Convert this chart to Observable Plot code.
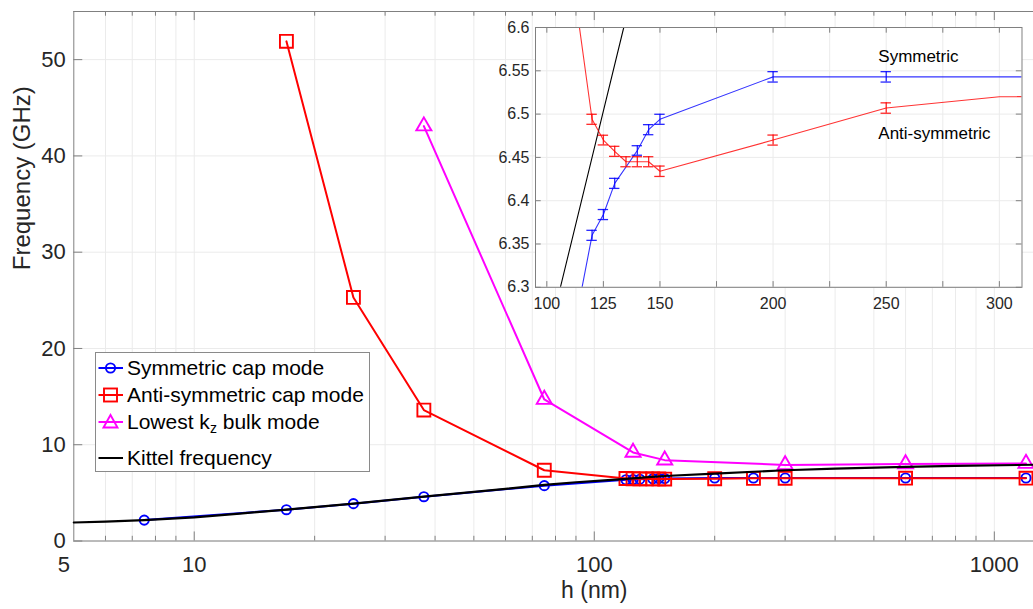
<!DOCTYPE html>
<html><head><meta charset="utf-8">
<script src="https://cdn.jsdelivr.net/npm/d3@7"></script>
<script src="https://cdn.jsdelivr.net/npm/@observablehq/plot@0.6"></script>
<style>
html,body{margin:0;padding:0;background:#fff;overflow:hidden;}
#wrap{position:relative;width:1033px;height:609px;font-family:"Liberation Sans",Arial,sans-serif;color:#262626;}
#wrap svg{display:block;}
#main{position:absolute;left:0;top:0;}
#inset{position:absolute;}
#legend{position:absolute;left:95px;top:352px;width:275px;height:120px;border:1px solid #8a8a8a;background:#fff;box-sizing:border-box;}
#legend .row{position:absolute;left:2px;height:24px;display:flex;align-items:center;white-space:nowrap;font-size:21px;color:#000;}
#legend .row svg{margin-right:3px;}
#legend sub{font-size:14px;position:relative;top:4px;vertical-align:baseline;}
</style></head><body><div id="wrap"><div id="main"></div><div id="inset"></div><div id="legend"></div></div>
<script>
// ---------- data ----------
const symH    = [7.5, 17, 25, 37.5, 75, 120, 125, 130, 140, 145, 150, 200, 250, 300, 600, 1200];
const symFreq = [2.17, 3.25, 3.88, 4.6, 5.75, 6.360, 6.384, 6.420, 6.458, 6.482, 6.494, 6.543, 6.543, 6.543, 6.543, 6.543];
const symErr  = [0, 0, 0, 0, 0, 0.0058, 0.0058, 0.0058, 0.0055, 0.0058, 0.0058, 0.006, 0.006, 0, 0, 0];

const antiH    = [17, 25, 37.5, 75, 120, 125, 130, 135, 140, 145, 150, 200, 250, 300, 600, 1200];
const antiFreq = [51.9, 25.3, 13.6, 7.35, 6.494, 6.470, 6.457, 6.445, 6.445, 6.445, 6.434, 6.470, 6.507, 6.520, 6.525, 6.527];
const antiErr  = [0, 0, 0, 0, 0.0058, 0.0056, 0.0058, 0.0058, 0.0058, 0.0058, 0.006, 0.0058, 0.006, 0, 0, 0];

const bulkH    = [37.5, 75, 125, 150, 300, 600, 1200];
const bulkFreq = [43.1, 14.7, 9.2, 8.4, 7.9, 8.0, 8.05];

const kittelH    = [5, 6, 7.5, 10, 13, 17, 25, 37.5, 50, 60, 75, 90, 106, 120, 134, 150, 200, 300, 400, 600, 800, 1253];
const kittelFreq = [1.92, 2.02, 2.17, 2.45, 2.85, 3.25, 3.88, 4.6, 5.1, 5.42, 5.83, 6.1, 6.3, 6.45, 6.6, 6.75, 7.0, 7.35, 7.52, 7.7, 7.8, 7.92];

const yTicks = [0, 10, 20, 30, 40, 50];
const xLabelTicks = [10, 100, 1000];
const xEdgeLabel = [5];
const xMajor = [10, 100, 1000];
const xMinor = [6, 7, 8, 9, 20, 30, 40, 50, 60, 70, 80, 90, 200, 300, 400, 500, 600, 700, 800, 900];

const insetXTicks = [100, 125, 150, 175, 200, 225, 250, 275, 300];
const insetXLabels = [100, 125, 150, 200, 250, 300];
const insetYTicks = [6.3, 6.35, 6.4, 6.45, 6.5, 6.55, 6.6];

const legendLabels = ["Symmetric cap mode", "Anti-symmetric cap mode", "Lowest k<sub>z</sub> bulk mode", "Kittel frequency"];

// ---------- tables ----------
const sym = symH.map((h, i) => ({h, f: symFreq[i], e: symErr[i]}));
const anti = antiH.map((h, i) => ({h, f: antiFreq[i], e: antiErr[i]}));
const bulk = bulkH.map((h, i) => ({h, f: bulkFreq[i]}));
const kittel = kittelH.map((h, i) => ({h, f: kittelFreq[i]}));

const BLUE = "#0000ff", RED = "#ff0000", MAG = "#ff00ff", BLACK = "#000000";
const AX = "#808080", GRID = "#ebebeb";
const FONT = "'Liberation Sans', Arial, Helvetica, sans-serif";

// ---------- main plot ----------
const X0 = 5, X1 = 1253, Y0 = 0, Y1 = 55;
const main = Plot.plot({
  width: 1033, height: 609,
  marginLeft: 73.3, marginRight: 0, marginTop: 11, marginBottom: 68.5,
  x: {type: "log", domain: [X0, X1], label: null},
  y: {domain: [Y0, Y1], label: null},
  style: {fontFamily: FONT, color: "#262626", background: "transparent", overflow: "visible"},
  marks: [
    Plot.ruleX([...xMajor, ...xMinor], {stroke: GRID, strokeWidth: 1}),
    Plot.ruleY(yTicks, {stroke: GRID, strokeWidth: 1}),
    // axes box
    Plot.ruleX([X0], {stroke: AX}),
    Plot.ruleY([Y0], {stroke: AX}),
    Plot.ruleY([Y1], {stroke: AX}),
    // inward ticks
    Plot.ruleX(xMajor, {y1: Y0, y2: Y0 + 0.94, stroke: AX}),
    Plot.ruleX(xMinor, {y1: Y0, y2: Y0 + 0.49, stroke: AX}),
    Plot.ruleX(xMajor, {y1: Y1 - 0.94, y2: Y1, stroke: AX}),
    Plot.ruleX(xMinor, {y1: Y1 - 0.49, y2: Y1, stroke: AX}),
    Plot.ruleY(yTicks, {x1: X0, x2: X0 * 1.053, stroke: AX}),
    // series
    Plot.line(sym, {x: "h", y: "f", stroke: BLUE, strokeWidth: 2}),
    Plot.dot(sym, {x: "h", y: "f", symbol: "circle", r: 4.6, stroke: BLUE, strokeWidth: 1.9, fill: "none"}),
    Plot.line(anti, {x: "h", y: "f", stroke: RED, strokeWidth: 2}),
    Plot.dot(anti, {x: "h", y: "f", symbol: "square", r: 7.3, stroke: RED, strokeWidth: 1.9, fill: "none"}),
    Plot.line(bulk, {x: "h", y: "f", stroke: MAG, strokeWidth: 2}),
    Plot.dot(bulk, {x: "h", y: "f", symbol: "triangle", r: 5.6, stroke: MAG, strokeWidth: 1.9, fill: "none"}),
    Plot.line(kittel, {x: "h", y: "f", stroke: BLACK, strokeWidth: 2.2}),
    // tick labels
    Plot.axisX({ticks: xLabelTicks, tickSize: 0, tickPadding: 15, tickFormat: d => String(d), fontSize: 22, label: null, fill: "#262626"}),
    Plot.text(xEdgeLabel, {x: d => d, text: d => String(d), frameAnchor: "bottom", lineAnchor: "top", dy: 15, dx: -10, fontSize: 22, fill: "#262626"}),
    Plot.axisY({ticks: yTicks, tickSize: 0, tickPadding: 8, tickFormat: d => String(d), fontSize: 22, label: null, fill: "#262626"}),
    // axis titles
    Plot.text([{h: 100, t: "h (nm)"}], {x: "h", text: "t", frameAnchor: "bottom", dy: 56.5, fontSize: 23, fill: "#262626"}),
    Plot.text(["Frequency (GHz)"], {text: d => d, frameAnchor: "left", dx: -51, dy: -6, rotate: -90, fontSize: 24, fill: "#262626"})
  ]
});
document.getElementById("main").appendChild(main);

// ---------- inset ----------
const IL = 50, IT = 4, IR = 6, IB = 30;
const frameL = 535, frameT = 26.7, frameW = 486.5, frameH = 259.8;
const IX0 = 95, IX1 = 310, IY0 = 6.3, IY1 = 6.6;
const capHalf = 2.3;
const tickY = 5.7 * (IY1 - IY0) / frameH;
const tickX = 5.7 * (IX1 - IX0) / frameW;
const symE = sym.filter(d => d.e > 0);
const antiE = anti.filter(d => d.e > 0);
const inset = Plot.plot({
  width: IL + frameW + IR, height: IT + frameH + IB,
  marginLeft: IL, marginRight: IR, marginTop: IT, marginBottom: IB,
  x: {domain: [IX0, IX1], label: null},
  y: {domain: [IY0, IY1], label: null},
  style: {fontFamily: FONT, color: "#262626", background: "transparent", overflow: "visible"},
  marks: [
    Plot.frame({fill: "white", stroke: "none"}),
    Plot.ruleX(insetXTicks, {stroke: GRID}),
    Plot.ruleY(insetYTicks, {stroke: GRID}),
    Plot.line(kittel, {x: "h", y: "f", stroke: BLACK, strokeWidth: 1.1, clip: true}),
    Plot.line(sym, {x: "h", y: "f", stroke: BLUE, strokeWidth: 1.1, strokeOpacity: 0.8, clip: true}),
    Plot.line(anti, {x: "h", y: "f", stroke: RED, strokeWidth: 1.1, strokeOpacity: 0.8, clip: true}),
    Plot.ruleX(symE, {x: "h", y1: d => d.f - d.e, y2: d => d.f + d.e, stroke: BLUE, strokeWidth: 1.3, strokeOpacity: 0.85}),
    Plot.ruleY(symE, {y: d => d.f - d.e, x1: d => d.h - capHalf, x2: d => d.h + capHalf, stroke: BLUE, strokeWidth: 1.3, strokeOpacity: 0.85}),
    Plot.ruleY(symE, {y: d => d.f + d.e, x1: d => d.h - capHalf, x2: d => d.h + capHalf, stroke: BLUE, strokeWidth: 1.3, strokeOpacity: 0.85}),
    Plot.ruleX(antiE, {x: "h", y1: d => d.f - d.e, y2: d => d.f + d.e, stroke: RED, strokeWidth: 1.3, strokeOpacity: 0.85}),
    Plot.ruleY(antiE, {y: d => d.f - d.e, x1: d => d.h - capHalf, x2: d => d.h + capHalf, stroke: RED, strokeWidth: 1.3, strokeOpacity: 0.85}),
    Plot.ruleY(antiE, {y: d => d.f + d.e, x1: d => d.h - capHalf, x2: d => d.h + capHalf, stroke: RED, strokeWidth: 1.3, strokeOpacity: 0.85}),
    Plot.text([{h: 246.5, f: 6.567, t: "Symmetric"}, {h: 246.5, f: 6.477, t: "Anti-symmetric"}],
      {x: "h", y: "f", text: "t", textAnchor: "start", fontSize: 17, fill: "#000"}),
    // ticks inward
    Plot.ruleX(insetXTicks, {y1: IY0, y2: IY0 + tickY, stroke: AX}),
    Plot.ruleX(insetXTicks, {y1: IY1 - tickY, y2: IY1, stroke: AX}),
    Plot.ruleY(insetYTicks, {x1: IX0, x2: IX0 + tickX, stroke: AX}),
    Plot.ruleY(insetYTicks, {x1: IX1 - tickX, x2: IX1, stroke: AX}),
    Plot.frame({stroke: AX}),
    Plot.axisX({ticks: insetXLabels, tickSize: 0, tickPadding: 10, tickFormat: d => String(d), fontSize: 16, label: null, fill: "#262626"}),
    Plot.axisY({ticks: insetYTicks, tickSize: 0, tickPadding: 6, tickFormat: d => String(+d.toFixed(2)), fontSize: 16, label: null, fill: "#262626"})
  ]
});
const insetDiv = document.getElementById("inset");
insetDiv.style.left = (frameL - IL) + "px";
insetDiv.style.top = (frameT - IT) + "px";
insetDiv.appendChild(inset);

// ---------- legend ----------
const legendColors = [BLUE, RED, MAG, BLACK];
const legendSymbols = ["circle", "square", "triangle", null];
const legendTops = [3, 29.6, 57.3, 93];
const legend = document.getElementById("legend");
legendLabels.forEach((lab, i) => {
  const row = document.createElement("div");
  row.className = "row";
  row.style.top = legendTops[i] + "px";
  const c = legendColors[i];
  let mk = "";
  if (legendSymbols[i] === "circle") mk = `<circle cx="12.5" cy="12" r="4.6" fill="none" stroke="${c}" stroke-width="1.9"/>`;
  if (legendSymbols[i] === "square") mk = `<rect x="6" y="5.5" width="13" height="13" fill="none" stroke="${c}" stroke-width="1.9"/>`;
  if (legendSymbols[i] === "triangle") mk = `<path d="M12.5,5 L19.5,17.5 L5.5,17.5 Z" fill="none" stroke="${c}" stroke-width="1.9"/>`;
  row.innerHTML = `<svg width="26" height="24"><line x1="0.5" y1="12" x2="25" y2="12" stroke="${c}" stroke-width="2"/>${mk}</svg><span>${lab}</span>`;
  legend.appendChild(row);
});
</script></body></html>
